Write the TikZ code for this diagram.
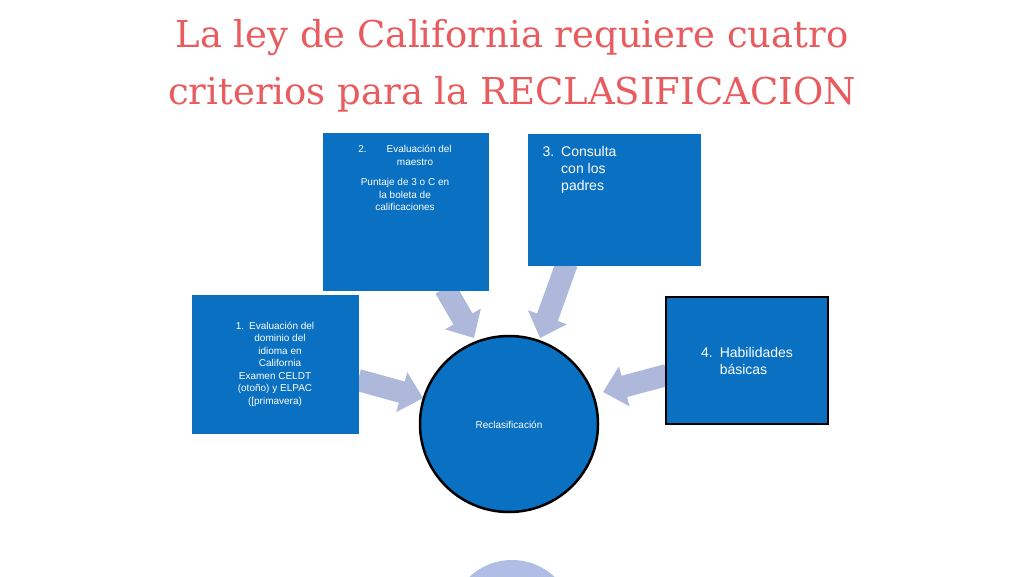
\documentclass[tikz,border=0pt]{standalone}
\usepackage{fontspec}
\setmainfont{Liberation Sans}
\newfontfamily\titlefont{DejaVu Serif}
\usetikzlibrary{arrows.meta}
\definecolor{boxblue}{HTML}{0A70C2}
\definecolor{arrowc}{HTML}{AEB8DA}
\definecolor{titlered}{HTML}{E85B5E}
\definecolor{softblue}{HTML}{B0BEE6}
\begin{document}
\begin{tikzpicture}[x=1pt,y=-1pt,
  bx/.style={fill=boxblue,draw=boxblue,inner sep=0},
  txt/.style={text=white,font=\fontsize{10}{12.5}\selectfont,align=center},
  arr/.style={line width=22pt,draw=arrowc,-{Triangle[width=40pt,length=22pt]}}]
\useasboundingbox (0,0) rectangle (1024,576);
\fill[white] (0,0) rectangle (1024,576);
\node[text=titlered,font=\titlefont\fontsize{37}{57}\selectfont,align=center] (title) at (512,66) {La ley de California requiere cuatro\\criterios para la RECLASIFICACION};
% bottom partial circle
\fill[softblue] (512,622) circle (62);
% arrows
\coordinate (a1s) at (358,380); \coordinate (a1e) at (423,398);
\coordinate (a2s) at (445,288); \coordinate (a2e) at (474,338);
\coordinate (a3s) at (567,263); \coordinate (a3e) at (540,338);
\coordinate (a4s) at (667,375); \coordinate (a4e) at (603,392);
\draw[arr] (a1s) -- (a1e);
\draw[arr] (a2s) -- (a2e);
\draw[arr] (a3s) -- (a3e);
\draw[arr] (a4s) -- (a4e);
% boxes
\fill[bx] (192,295) rectangle (358,433);
\node[txt] (b1) at (275,364) {1.\enspace Evaluación del\\\quad dominio del\\\quad idioma en\\\quad California\\Examen CELDT\\(otoño) y ELPAC\\([primavera)};
\fill[bx] (323,133) rectangle (488,290);
\node[txt,anchor=north] (b2) at (405,142) {2.\qquad Evaluación del\\\qquad maestro\\[8pt]Puntaje de 3 o C en\\la boleta de\\calificaciones};
\fill[bx] (528,134) rectangle (700,265);
\node[text=white,font=\fontsize{14}{17}\selectfont,align=left,anchor=north west] (b3) at (539,143) {3.\enspace Consulta\\\phantom{3.\enspace}con los\\\phantom{3.\enspace}padres};
\draw[fill=boxblue,draw=black,line width=2pt] (666,297) rectangle (828,424);
\node[text=white,font=\fontsize{14}{17}\selectfont,align=left] (b4) at (747,361) {4.\enspace Habilidades\\\phantom{4.\enspace}básicas};
% circle
\draw[fill=boxblue,draw=black,line width=2.5pt] (509,424) ellipse (89 and 88);
\node[text=white,font=\fontsize{10}{12}\selectfont] (c) at (509,425) {Reclasificación};
\end{tikzpicture}
\end{document}
